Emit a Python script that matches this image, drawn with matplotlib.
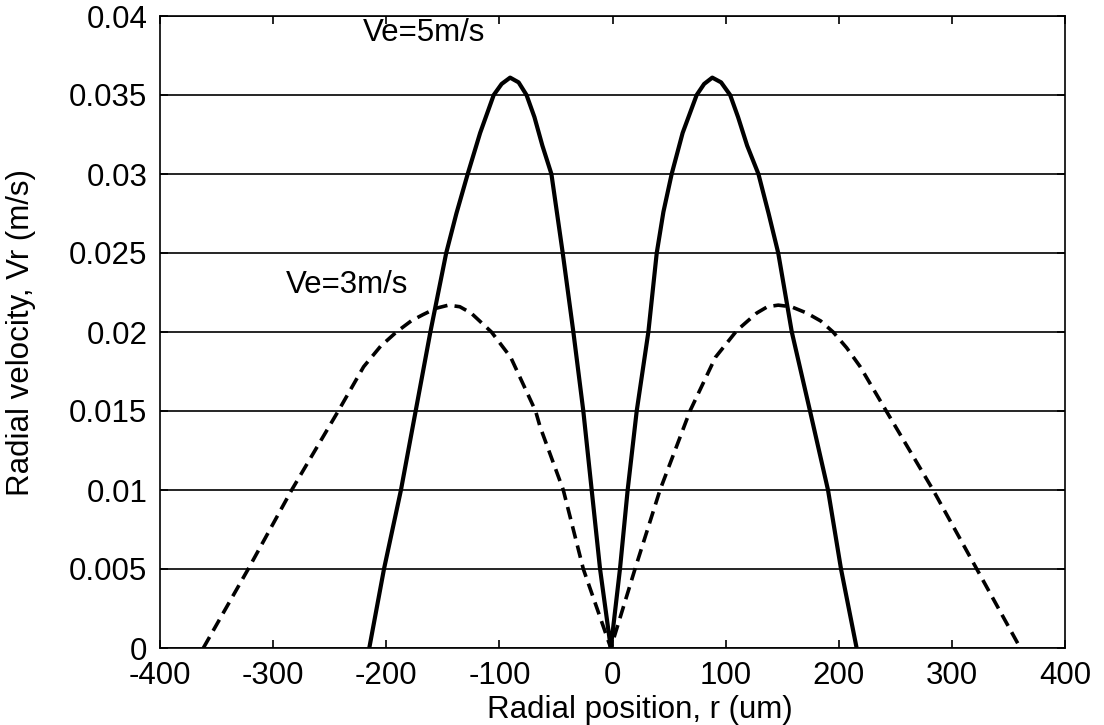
import matplotlib
matplotlib.use('Agg')
import matplotlib.pyplot as plt

# Ve = 5 m/s (solid)
r_ve5 = [-215, -202, -187, -174, -161, -147, -138, -128, -117, -105, -98, -90.5, -83, -76, -69,
         -62, -54, -44, -34.6, -25.8, -18.4, -11, -1.5, 6.6, 13.4, 21.4, 31.7, 39.1, 45, 52.3, 62,
         74.4, 81, 88.2, 96, 104, 111, 119, 129, 138, 146.5, 158.5, 174.6, 190.5, 202, 215.8]
v_ve5 = [0, 0.005, 0.010, 0.015, 0.020, 0.025, 0.0275, 0.030, 0.0326, 0.035, 0.0357, 0.0361,
         0.0358, 0.035, 0.0336, 0.0318, 0.030, 0.025, 0.020, 0.015, 0.010, 0.005, 0, 0.005, 0.010,
         0.015, 0.020, 0.025, 0.0276, 0.030, 0.0326, 0.035, 0.0357, 0.0361, 0.0358, 0.035, 0.0336,
         0.0318, 0.030, 0.0275, 0.025, 0.020, 0.015, 0.010, 0.005, 0]

# Ve = 3 m/s (dashed)
r_ve3 = [-361.7, -322, -283.6, -242.4, -220, -205, -191, -178, -167.5, -156, -145, -135, -125,
         -107, -90, -68, -64, -43.5, -25.8, -1.5, 19.9, 42, 68.5, 91, 110, 127.5, 137, 146.5, 158,
         171.7, 184, 195, 207, 219, 242, 283.4, 322, 360.5]
v_ve3 = [0, 0.005, 0.010, 0.015, 0.0178, 0.0191, 0.020, 0.0207, 0.0211, 0.0215, 0.0217, 0.0216,
         0.0212, 0.0200, 0.0184, 0.015, 0.014, 0.010, 0.005, 0, 0.005, 0.010, 0.015, 0.0184, 0.0201,
         0.0212, 0.0216, 0.0217, 0.0216, 0.0212, 0.0207, 0.020, 0.019, 0.0178, 0.015, 0.010, 0.005, 0]

xticks = [-400, -300, -200, -100, 0, 100, 200, 300, 400]
yticks = [0, 0.005, 0.01, 0.015, 0.02, 0.025, 0.03, 0.035, 0.04]
ytick_labels = ['0', '0.005', '0.01', '0.015', '0.02', '0.025', '0.03', '0.035', '0.04']

plt.rcParams['font.family'] = ['Liberation Sans', 'DejaVu Sans']
fs = 22.5

fig = plt.figure(figsize=(11.04, 7.25), dpi=100)
ax = fig.add_axes([160/1104, 77/725, 905/1104, 632/725])

ax.plot(r_ve5, v_ve5, color='black', lw=3.0, solid_joinstyle='round')
ax.plot(r_ve3, v_ve3, color='black', lw=2.6, linestyle=(0, (3.5, 2.0)))

ax.set_xlim(-400, 400)
ax.set_ylim(0, 0.04)
ax.set_xticks(xticks)
ax.set_xticklabels([str(t) for t in xticks])
ax.set_yticks(yticks)
ax.set_yticklabels(ytick_labels)
ax.grid(axis='y', color='black', linewidth=1.2)
ax.set_axisbelow(True)

ax.tick_params(direction='in', length=6, width=1.2, top=True, right=True, labelsize=fs)
ax.tick_params(axis='x', pad=9)
ax.tick_params(axis='y', pad=9)
for s in ax.spines.values():
    s.set_linewidth(1.2)

ax.set_xlabel('Radial position, r (um)', fontsize=fs)
ax.set_ylabel('Radial velocity, Vr (m/s)', fontsize=fs)
ax.xaxis.set_label_coords(0.53, -0.074)
ax.yaxis.set_label_coords(-0.137, 0.5)

ax.text(-221, 0.0389, 'Ve=5m/s', fontsize=fs, va='center', ha='left')
ax.text(-289, 0.0230, 'Ve=3m/s', fontsize=fs, va='center', ha='left')

fig.savefig('out.png', dpi=100)
